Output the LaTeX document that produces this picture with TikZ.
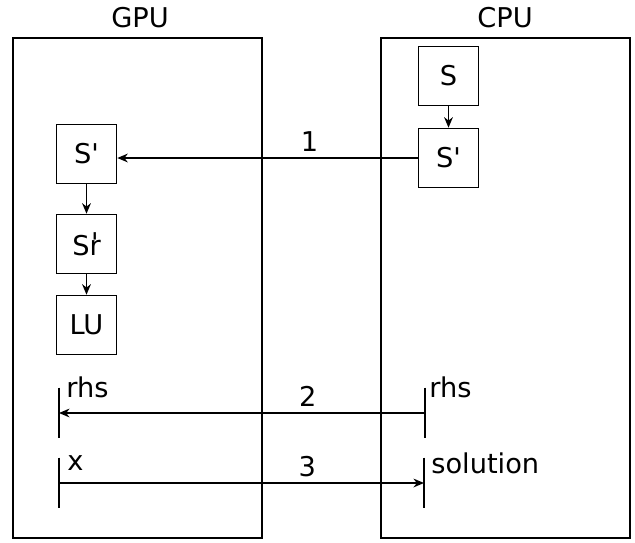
\documentclass[tikz,border=0pt]{standalone}
\usepackage{fontspec}
\newfontfamily\dejavu{DejaVu Sans}
\usetikzlibrary{arrows.meta,positioning,calc}

\begin{document}
\begin{tikzpicture}[
    >=Stealth,
    every node/.style={font=\dejavu\fontsize{15.5}{18}\selectfont},
    panel/.style={draw, line width=0.9pt},
    blk/.style={draw, line width=0.9pt, minimum width=1.2cm, minimum height=1.18cm, inner sep=0pt},
    arr/.style={-{Stealth[length=6pt,width=5pt]}, line width=0.9pt},
    vbar/.style={line width=0.9pt},
    lbl/.style={inner sep=0pt, anchor=base west},
    num/.style={above, inner sep=3pt},
  ]
  \useasboundingbox (0,0) rectangle (12.7,10.84);

  % =================== Panels ===================
  \draw[panel] (0.26,0.08) rectangle (5.24,10.08);
  \draw[panel] (7.62,0.08) rectangle (12.6,10.08);
  \node[anchor=base] (gputitle) at (2.8,10.3) {GPU};
  \node[anchor=base] (cputitle) at (10.1,10.3) {CPU};

  % =================== CPU side ===================
  \node[blk] (cs) at (8.97,9.32) {S};
  \node[blk] (cs1) at (8.97,7.68) {S'};
  \draw[arr] (cs) -- (cs1);

  % =================== GPU side ===================
  \node[blk] (gs1) at (1.73,7.76) {S'};
  \node[blk] (gsr) at (1.73,5.96) {S\rlap{\kern0.06em\raisebox{0.2ex}{'}}r};
  \node[blk] (glu) at (1.73,4.34) {LU};
  \draw[arr] (gs1) -- (gsr);
  \draw[arr] (gsr) -- (glu);

  % transfer 1
  \draw[arr] (cs1.west) -- (cs1.west -| gs1.east) node[num, pos=0.36] {1};

  % =================== rhs / solution ===================
  \coordinate (grhs) at (1.18,2.58);
  \coordinate (crhs) at (8.5,2.58);
  \coordinate (gx) at (1.18,1.18);
  \coordinate (csol) at (8.48,1.18);
  \foreach \c in {grhs,crhs,gx,csol}
    \draw[vbar] ($(\c)+(0,0.51)$) -- ($(\c)+(0,-0.5)$);

  \draw[arr] (crhs) -- (grhs) node[num, pos=0.32] {2};
  \draw[arr] (gx) -- (csol) node[num, pos=0.68] {3};

  \node[lbl] (lgrhs) at (1.32,2.9) {rhs};
  \node[lbl] (lcrhs) at (8.58,2.9) {rhs};
  \node[lbl] (lgx) at (1.34,1.44) {x};
  \node[lbl] (lcsol) at (8.62,1.38) {solution};

\end{tikzpicture}
\end{document}
